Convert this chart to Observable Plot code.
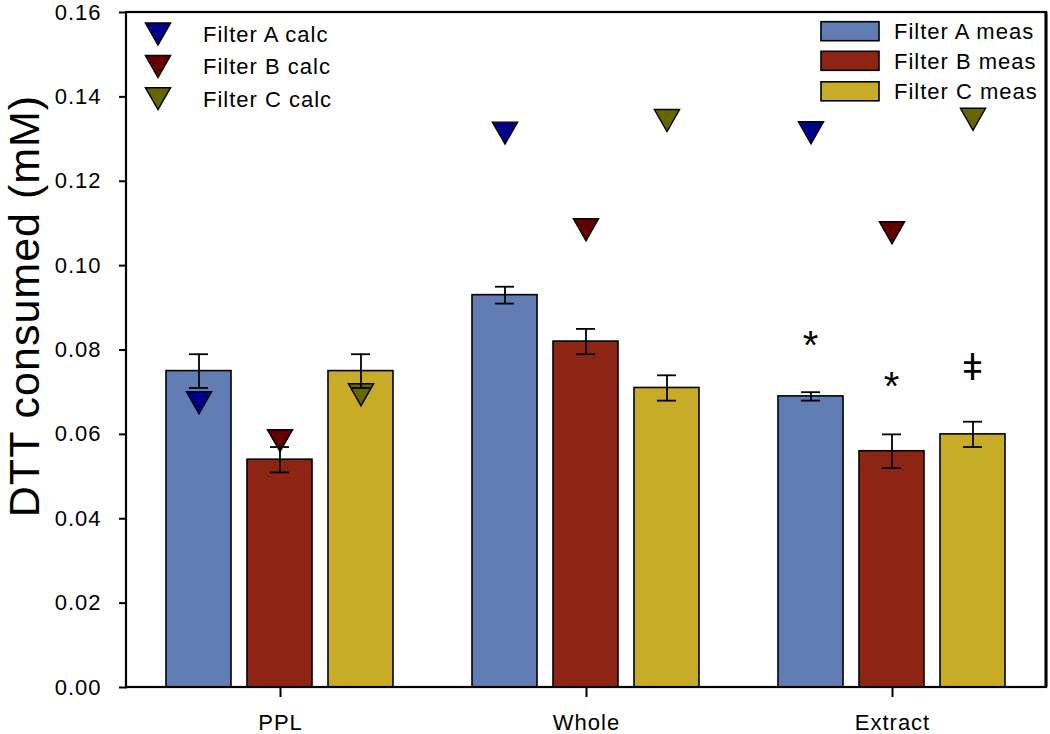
<!DOCTYPE html>
<html>
<head>
<meta charset="utf-8">
<script src="https://cdn.jsdelivr.net/npm/d3@7"></script>
<script src="https://cdn.jsdelivr.net/npm/@observablehq/plot@0.6"></script>
<style>
  html, body { margin: 0; padding: 0; background: white; }
  svg text { letter-spacing: 1px; }
</style>
</head>
<body>
<div id="chart"></div>
<script>
// ---- data ----
const categories = ["PPL", "Whole", "Extract"];
const filters = ["Filter A", "Filter B", "Filter C"];

const measA = [0.075, 0.093, 0.069];
const measB = [0.054, 0.082, 0.056];
const measC = [0.075, 0.071, 0.060];

const errA = [0.004, 0.002, 0.001];
const errB = [0.003, 0.003, 0.004];
const errC = [0.004, 0.003, 0.003];

const calcA = [0.0675, 0.1314, 0.1315];
const calcB = [0.0585, 0.1085, 0.1078];
const calcC = [0.0694, 0.1344, 0.1347];

const measColors = ["#627db4", "#8e2413", "#c8ac28"];
const calcColors = ["#00008c", "#640000", "#666600"];

const measLabels = ["Filter A meas", "Filter B meas", "Filter C meas"];
const calcLabels = ["Filter A calc", "Filter B calc", "Filter C calc"];

const yTicks = [0, 0.02, 0.04, 0.06, 0.08, 0.10, 0.12, 0.14, 0.16];

const annotCat = ["Extract", "Extract", "Extract"];
const annotFilter = ["Filter A", "Filter B", "Filter C"];
const annotY = [0.0833, 0.0735, 0.0751];
const annotText = ["*", "*", "ǂ"];

(function () {
  // ---- tables built from the arrays ----
  const measSeries = [measA, measB, measC];
  const errSeries = [errA, errB, errC];
  const calcSeries = [calcA, calcB, calcC];

  const meas = [];
  const calc = [];
  filters.forEach((f, j) => {
    categories.forEach((c, i) => {
      const v = measSeries[j][i], e = errSeries[j][i];
      meas.push({cat: c, filter: f, value: v, lo: v - e, hi: v + e, color: measColors[j]});
      calc.push({cat: c, filter: f, value: calcSeries[j][i], color: calcColors[j]});
    });
  });
  const annots = annotText.map((t, i) => ({cat: annotCat[i], filter: annotFilter[i], y: annotY[i], text: t}));

  // downward triangle, centred on its bounding box
  const downTri = {
    draw(context, size) {
      const k = Math.sqrt(size / 270.6);
      const hw = 12.6 * k, hh = 11 * k;
      context.moveTo(-hw, -hh);
      context.lineTo(hw, -hh);
      context.lineTo(0, hh);
      context.closePath();
    }
  };

  const font = "'Liberation Sans', Arial, sans-serif";

  const plot = Plot.plot({
    width: 1050,
    height: 734,
    marginLeft: 126,
    marginRight: 4,
    marginTop: 12,
    marginBottom: 47,
    style: {fontFamily: font, fontSize: "22px", color: "black", background: "white"},
    fx: {domain: categories, padding: 0, label: null},
    x: {domain: filters, paddingInner: 0.195, paddingOuter: 0.47, axis: null},
    y: {domain: [0, 0.16]},
    color: {type: "identity"},
    marks: [
      Plot.axisY({ticks: yTicks, tickFormat: d3.format(".2f"), tickSize: 8, tickPadding: 18,
                  strokeWidth: 2, fontSize: 22, label: null}),
      Plot.axisFx({anchor: "bottom", tickSize: 10, tickPadding: 17, strokeWidth: 2, fontSize: 22, label: null}),
      Plot.barY(meas, {fx: "cat", x: "filter", y: "value", fill: "color", stroke: "black", strokeWidth: 1.6}),
      Plot.dot(calc, {fx: "cat", x: "filter", y: "value", symbol: downTri, r: 9.28,
                      fill: "color", stroke: "black", strokeWidth: 1.4}),
      Plot.ruleX(meas, {fx: "cat", x: "filter", y1: "lo", y2: "hi", stroke: "black", strokeWidth: 1.8}),
      Plot.tickY(meas, {fx: "cat", x: "filter", y: "hi", insetLeft: 23, insetRight: 23, stroke: "black", strokeWidth: 1.8}),
      Plot.tickY(meas, {fx: "cat", x: "filter", y: "lo", insetLeft: 23, insetRight: 23, stroke: "black", strokeWidth: 1.8}),
      Plot.text(annots.filter(d => d.text === "*"), {fx: "cat", x: "filter", y: "y", text: "text",
                      fontSize: 40, dy: 10, fill: "black"}),
      Plot.text(annots.filter(d => d.text !== "*"), {fx: "cat", x: "filter", y: "y", text: "text",
                      fontSize: 36, dy: -2, fill: "black"})
    ]
  });

  document.getElementById("chart").appendChild(plot);

  // ---- frame, title and in-plot legends ----
  const svg = d3.select(plot);
  const x0 = 126, y0 = 12, x1 = 1046, y1 = 687;

  svg.append("rect")
    .attr("x", x0).attr("y", y0)
    .attr("width", x1 - x0).attr("height", y1 - y0)
    .attr("fill", "none").attr("stroke", "black").attr("stroke-width", 2.2);
  svg.append("line")
    .attr("x1", x1).attr("x2", x1).attr("y1", y0).attr("y2", y1)
    .attr("stroke", "black").attr("stroke-width", 3);

  svg.append("text")
    .attr("transform", "translate(39,306) rotate(-90)")
    .attr("text-anchor", "middle")
    .attr("font-family", font)
    .attr("font-size", 43)
    .attr("fill", "black")
    .text("DTT consumed (mM)");

  const triPath = d3.symbol(downTri, 270.6)();
  const calcRows = [34, 66.5, 98.7];
  calcLabels.forEach((lab, i) => {
    svg.append("path")
      .attr("d", triPath)
      .attr("transform", `translate(158,${calcRows[i]})`)
      .attr("fill", calcColors[i]).attr("stroke", "black").attr("stroke-width", 1.4);
    svg.append("text")
      .attr("x", 203).attr("y", calcRows[i]).attr("dy", "0.36em")
      .attr("text-anchor", "start")
      .attr("font-family", font).attr("font-size", 22).attr("fill", "black")
      .text(lab);
  });

  const measRows = [31.2, 60.8, 91.3];
  measLabels.forEach((lab, i) => {
    svg.append("rect")
      .attr("x", 821).attr("y", measRows[i] - 9.5)
      .attr("width", 58).attr("height", 19)
      .attr("fill", measColors[i]).attr("stroke", "black").attr("stroke-width", 1.6);
    svg.append("text")
      .attr("x", 894).attr("y", measRows[i]).attr("dy", "0.36em")
      .attr("text-anchor", "start")
      .attr("font-family", font).attr("font-size", 22).attr("fill", "black")
      .text(lab);
  });
})();
</script>
</body>
</html>
